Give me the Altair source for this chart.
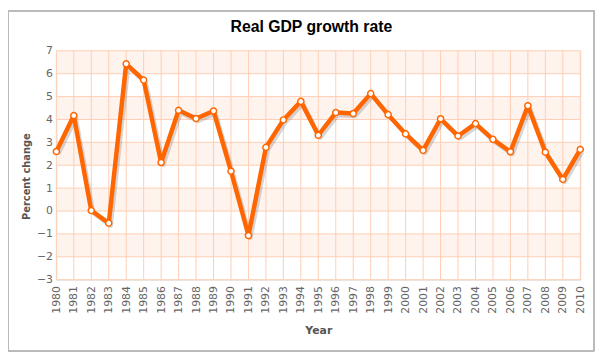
import altair as alt
import pandas as pd

years = list(range(1980, 2011))
growth = [2.60, 4.17, 0.02, -0.53, 6.43, 5.72, 2.12, 4.40, 4.04, 4.37, 1.74, -1.07,
          2.78, 3.98, 4.79, 3.31, 4.30, 4.26, 5.13, 4.21, 3.37, 2.65, 4.03, 3.28,
          3.82, 3.13, 2.59, 4.60, 2.57, 1.38, 2.69]
y_ticks = list(range(-3, 8))
band_starts = [-2, 0, 2, 4, 6]

df = pd.DataFrame({"Year": years, "Growth": growth})
bands = pd.DataFrame({"lo": band_starts, "hi": [b + 1 for b in band_starts]})
vgrid = pd.DataFrame({"Year": years})
hgrid = pd.DataFrame({"v": y_ticks})

xscale = alt.Scale(domain=[1980, 2010], nice=False, zero=False)
yscale = alt.Scale(domain=[-3, 7], nice=False, zero=False)

ORANGE = "#FF6600"
GRID = "#FFCDB3"

x_axis = alt.Axis(values=years, format="d", labelAngle=270, labelAlign="right",
                  labelBaseline="middle", labelPadding=6, ticks=False, domain=False,
                  grid=False, title="Year", titlePadding=12, labelFontSize=11,
                  labelColor="#666666", titleColor="#555555", titleFontSize=11,
                  titleFont="DejaVu Sans", labelFont="DejaVu Sans", titleFontWeight="bold",
                  labelOverlap=False, labelFlush=False)
y_axis = alt.Axis(values=y_ticks, ticks=False, domain=False, grid=False,
                  title="Percent change", labelPadding=4, labelFontSize=11,
                  labelColor="#666666", titleColor="#555555", titleFontSize=10,
                  titleFont="DejaVu Sans", labelFont="DejaVu Sans", titleFontWeight="bold",
                  titleX=-30, titleY=127, titleAngle=270, titleBaseline="middle",
                  titleAlign="center", labelOverlap=False, labelFlush=False)

X = lambda f: alt.X(f, scale=xscale, axis=x_axis)
Y = lambda f: alt.Y(f, scale=yscale, axis=y_axis)

band_layer = alt.Chart(bands).mark_rect(color="#FFF3EE").encode(
    y=Y("lo:Q"), y2="hi:Q",
    x=alt.value(0), x2=alt.value(531),
)

vgrid_layer = alt.Chart(vgrid).mark_rule(color=GRID, strokeWidth=1).encode(x=X("Year:Q"))
hgrid_layer = alt.Chart(hgrid).mark_rule(color=GRID, strokeWidth=1).encode(y=Y("v:Q"))

shadow = alt.Chart(df).mark_line(color="#777777", opacity=0.3, strokeWidth=4.5,
                                 xOffset=2, yOffset=2.5, strokeJoin="round").encode(
    x=X("Year:Q"), y=Y("Growth:Q"))
line = alt.Chart(df).mark_line(color=ORANGE, strokeWidth=4.5, strokeJoin="round").encode(
    x=X("Year:Q"), y=Y("Growth:Q"))
points = alt.Chart(df).mark_point(filled=True, fill="white", stroke=ORANGE,
                                  strokeWidth=1.5, size=38, opacity=1).encode(
    x=X("Year:Q"), y=Y("Growth:Q"))

frame = alt.Chart(df).mark_rect(fill=None, stroke="#BBBBBB", strokeWidth=1).encode(
    x=alt.value(-48.5), x2=alt.value(545), y=alt.value(-40.5), y2=alt.value(304))

chart = alt.layer(frame, band_layer, vgrid_layer, hgrid_layer, shadow, line, points).properties(
    width=531, height=232,
    title=alt.TitleParams("Real GDP growth rate", font="Liberation Sans", fontSize=16,
                          fontWeight="bold", color="#000000", anchor="middle",
                          frame="group", dx=-7, offset=-41, baseline="bottom"),
    autosize=alt.AutoSizeParams(type="none"),
    padding={"left": 49, "top": 41, "right": 20, "bottom": 77},
).configure_view(stroke="#666666", strokeWidth=3).configure(background="white")

chart.save("out.html", embed_options={"renderer": "svg", "actions": False})
